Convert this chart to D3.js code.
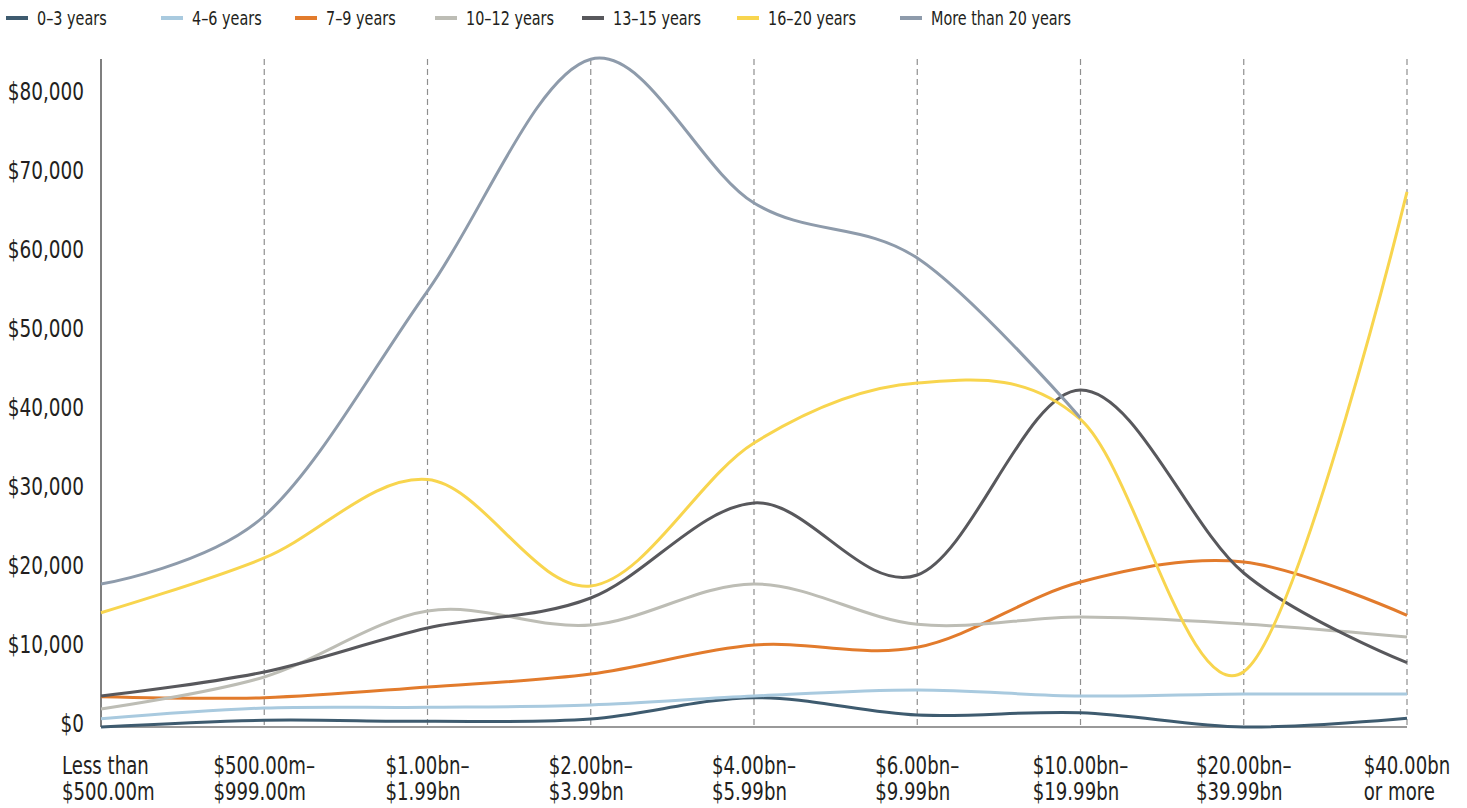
<!DOCTYPE html>
<html>
<head>
<meta charset="utf-8">
<script src="https://cdn.jsdelivr.net/npm/d3@7"></script>
<style>
  html, body { margin: 0; padding: 0; background: #fff; }
  svg text { font-family: "Liberation Sans Narrow", "DejaVu Sans Condensed", "Arial Narrow", sans-serif; fill: #231f20; }
</style>
</head>
<body>
<svg id="chart" width="1467" height="808"></svg>
<script>
// Company size bands (x axis)
const categories = [
  ["Less than", "$500.00m"],
  ["$500.00m–", "$999.00m"],
  ["$1.00bn–", "$1.99bn"],
  ["$2.00bn–", "$3.99bn"],
  ["$4.00bn–", "$5.99bn"],
  ["$6.00bn–", "$9.99bn"],
  ["$10.00bn–", "$19.99bn"],
  ["$20.00bn–", "$39.99bn"],
  ["$40.00bn", "or more"]
];

// Tenure series
const seriesNames = ["0–3 years", "4–6 years", "7–9 years", "10–12 years", "13–15 years", "16–20 years", "More than 20 years"];
const seriesColors = ["#3e5b6f", "#a9cadf", "#e27b2c", "#bdbdb5", "#58585c", "#f8d54e", "#8e9bab"];

const years0to3   = [0, 850, 720, 1010, 3710, 1520, 1810, 0, 1100];
const years4to6   = [1050, 2400, 2490, 2780, 3920, 4680, 3920, 4170, 4170];
const years7to9   = [3830, 3710, 5060, 6700, 10370, 10080, 18340, 20870, 14130];
const years10to12 = [2280, 6330, 14670, 12900, 18090, 12990, 13920, 13030, 11390];
const years13to15 = [3920, 6960, 12520, 16320, 28340, 19230, 42630, 19480, 8130];
const years16to20 = [14460, 21380, 31300, 17840, 35930, 43520, 38900, 7000, 67680];
const yearsOver20 = [18090, 26690, 55150, 84470, 66290, 59330, 39090, null, null];

const seriesValues = [years0to3, years4to6, years7to9, years10to12, years13to15, years16to20, yearsOver20];

// Y axis ticks
const yTicks = [0, 10000, 20000, 30000, 40000, 50000, 60000, 70000, 80000];

const svg = d3.select("#chart");

const x = d3.scalePoint()
  .domain(d3.range(categories.length))
  .range([101, 1407]);

const y = d3.scaleLinear()
  .domain([0, 84500])
  .range([727, 59]);

// Dashed vertical guides at each band (except the first, which is the axis)
svg.append("g")
  .selectAll("line")
  .data(d3.range(1, categories.length))
  .join("line")
  .attr("x1", d => x(d)).attr("x2", d => x(d))
  .attr("y1", y.range()[1]).attr("y2", y(0))
  .attr("stroke", "#8f8f8f")
  .attr("stroke-width", 1.2)
  .attr("stroke-dasharray", "6,4");

// Axes
svg.append("line")
  .attr("x1", x(0)).attr("x2", x(0))
  .attr("y1", y.range()[1]).attr("y2", y(0))
  .attr("stroke", "#555").attr("stroke-width", 1.5);
svg.append("line")
  .attr("x1", x(0)).attr("x2", x(categories.length - 1))
  .attr("y1", y(0)).attr("y2", y(0))
  .attr("stroke", "#777").attr("stroke-width", 1.5);

// Y tick labels
const fmt = d3.format("$,");
const yAxis = svg.append("g");
yAxis.selectAll("text")
  .data(yTicks)
  .join("text")
  .attr("text-anchor", "end")
  .attr("font-size", 25)
  .attr("transform", d => `translate(84,${y(d) + 5}) scale(0.82,1)`)
  .text(d => fmt(d));

// X labels: two left-aligned lines, block centred on the band (kept clear of the left edge)
const xAxis = svg.append("g");
categories.forEach((lines, i) => {
  const g = xAxis.append("g");
  const t = g.append("text").attr("font-size", 24);
  lines.forEach((ln, j) => {
    t.append("tspan").attr("x", 0).attr("y", 0).attr("dy", j * 26).text(ln);
  });
  const w = t.node().getBBox().width * 0.84;
  const left = Math.max(62, x(i) - w / 2);
  g.attr("transform", `translate(${left},774) scale(0.84,1)`);
});

// Series lines
const line = d3.line()
  .defined(d => d != null)
  .x((d, i) => x(i))
  .y(d => y(d))
  .curve(d3.curveCardinal.tension(0));

svg.append("g")
  .selectAll("path")
  .data(seriesValues)
  .join("path")
  .attr("fill", "none")
  .attr("stroke", (d, i) => seriesColors[i])
  .attr("stroke-width", 3)
  .attr("stroke-linejoin", "round")
  .attr("d", d => line(d));

// Legend
const legend = svg.append("g");
const legendTextX = [37, 192, 326, 466, 613, 768, 931];
seriesNames.forEach((name, i) => {
  const g = legend.append("g").attr("transform", `translate(${legendTextX[i]},18)`);
  g.append("line")
    .attr("x1", -31).attr("x2", -9)
    .attr("stroke", seriesColors[i]).attr("stroke-width", 4);
  g.append("text")
    .attr("font-size", 20)
    .attr("transform", "translate(0,7) scale(0.8,1)")
    .text(name);
});
</script>
</body>
</html>
